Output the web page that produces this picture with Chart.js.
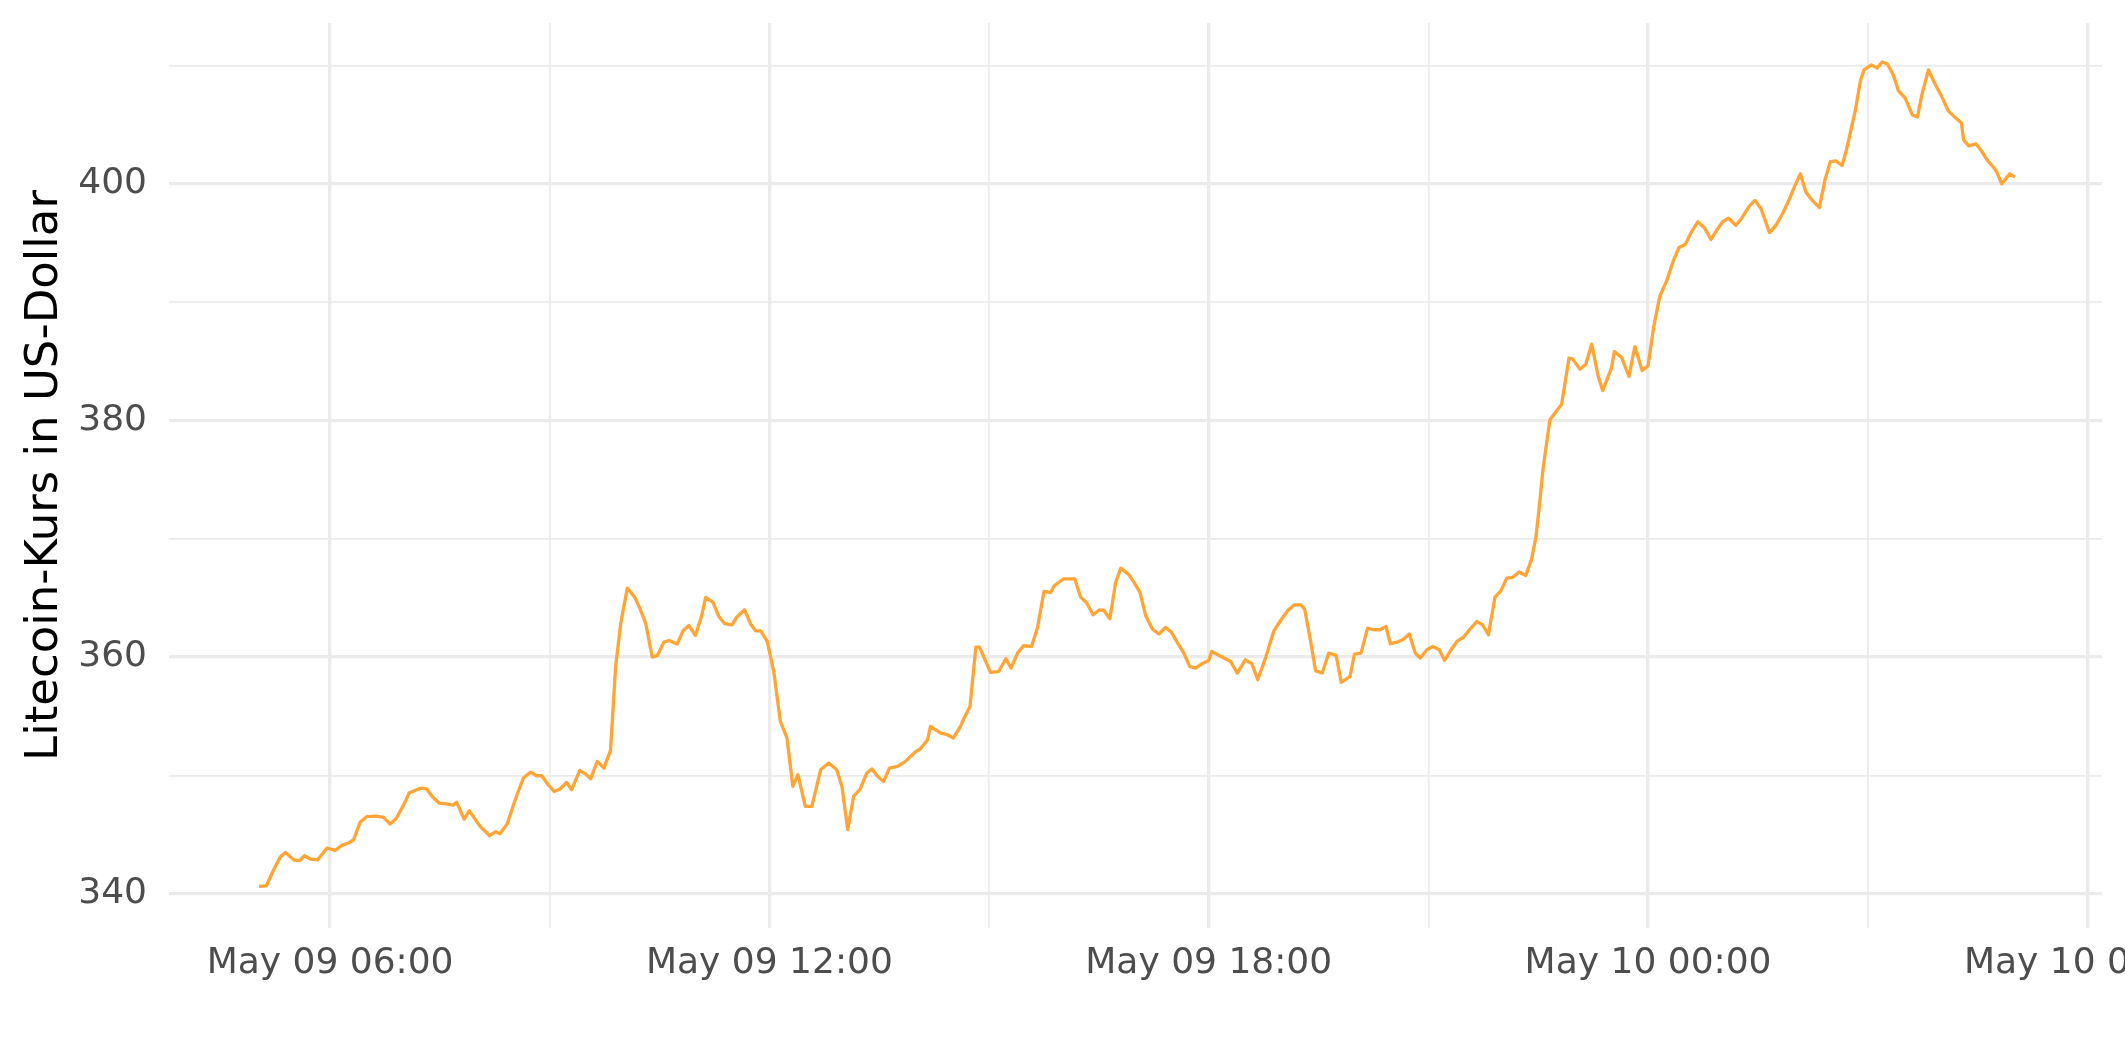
<!DOCTYPE html>
<html><head><meta charset="utf-8">
<script src="https://cdn.jsdelivr.net/npm/chart.js@4.4.1/dist/chart.umd.min.js"></script>
<style>html,body{margin:0;padding:0;background:#fff;}canvas{display:block;}</style>
</head><body>
<canvas id="c" width="2125" height="1062"></canvas>
<script>
// time in hours since May 09 00:00
const hours = [
5.03,5.13,5.23,5.32,5.39,5.45,5.52,5.59,5.65,5.73,5.83,5.96,6.07,6.16,6.25,6.32,6.41,6.50,6.63,6.73,
6.82,6.90,7.00,7.08,7.16,7.25,7.32,7.40,7.49,7.59,7.68,7.73,7.83,7.90,8.05,8.18,8.26,8.32,8.42,8.51,
8.57,8.64,8.74,8.82,8.89,8.98,9.06,9.14,9.23,9.30,9.41,9.49,9.56,9.65,9.74,9.83,9.90,9.97,10.06,10.16,
10.23,10.31,10.40,10.47,10.56,10.63,10.74,10.82,10.90,10.99,11.07,11.13,11.23,11.31,11.39,11.49,11.55,11.66,11.75,11.81,
11.88,11.97,12.06,12.15,12.24,12.32,12.39,12.49,12.58,12.70,12.81,12.92,12.99,13.07,13.15,13.24,13.33,13.40,13.48,13.56,
13.64,13.75,13.84,13.92,14.00,14.06,14.16,14.20,14.34,14.43,14.51,14.61,14.66,14.74,14.82,14.87,15.02,15.13,15.23,15.30,
15.39,15.47,15.58,15.66,15.75,15.84,15.89,16.02,16.17,16.25,16.33,16.42,16.51,16.57,16.65,16.73,16.80,16.91,16.98,17.06,
17.14,17.23,17.32,17.41,17.49,17.55,17.66,17.74,17.82,17.91,18.00,18.04,18.15,18.30,18.39,18.50,18.59,18.67,18.78,18.89,
18.98,19.08,19.17,19.26,19.31,19.38,19.46,19.55,19.64,19.74,19.81,19.93,19.99,20.08,20.17,20.25,20.34,20.42,20.48,20.56,
20.65,20.74,20.82,20.89,20.98,21.06,21.15,21.22,21.31,21.39,21.48,21.57,21.66,21.74,21.82,21.91,21.99,22.07,22.15,22.24,
22.33,22.41,22.47,22.51,22.57,22.66,22.82,22.92,22.97,23.07,23.15,23.23,23.32,23.38,23.50,23.54,23.64,23.74,23.82,23.92,
24.00,24.08,24.16,24.26,24.34,24.42,24.51,24.59,24.68,24.77,24.86,24.94,25.02,25.10,25.20,25.28,25.38,25.46,25.54,25.66,
25.75,25.84,25.93,26.00,26.08,26.16,26.25,26.34,26.42,26.49,26.57,26.65,26.71,26.83,26.90,26.95,27.05,27.13,27.20,27.27,
27.35,27.42,27.51,27.61,27.68,27.74,27.83,27.92,28.00,28.10,28.20,28.28,28.31,28.38,28.48,28.56,28.63,28.71,28.76,28.83,
28.94,29.01
];
const prices = [
340.62,340.67,342.03,343.10,343.49,343.15,342.81,342.81,343.21,342.93,342.87,343.86,343.66,344.08,344.28,344.56,346.03,346.51,346.56,346.45,
345.89,346.34,347.44,348.51,348.73,348.93,348.85,348.17,347.66,347.60,347.49,347.72,346.31,347.01,345.69,344.90,345.24,345.07,345.91,347.60,
348.64,349.78,350.28,349.97,349.97,349.21,348.64,348.85,349.40,348.79,350.42,350.11,349.72,351.18,350.62,352.11,359.21,362.87,365.83,365.07,
364.14,362.87,360.00,360.14,361.27,361.40,361.10,362.22,362.67,361.83,363.38,365.04,364.62,363.43,362.82,362.73,363.35,364.00,362.73,362.22,
362.22,361.32,358.78,354.56,353.16,349.07,350.06,347.38,347.38,350.48,351.04,350.48,349.07,345.41,348.22,348.85,350.20,350.54,349.91,349.49,
350.62,350.76,351.10,351.55,352.02,352.23,353.01,354.14,353.58,353.44,353.16,354.14,354.85,355.83,360.85,360.85,358.70,358.78,359.86,359.07,
360.34,360.96,360.90,362.45,365.55,365.46,366.03,366.62,366.62,365.07,364.62,363.58,364.00,363.94,363.24,366.34,367.52,366.96,366.31,365.49,
363.49,362.37,361.95,362.50,362.11,361.46,360.34,359.21,359.07,359.44,359.72,360.48,360.11,359.63,358.65,359.77,359.44,358.08,360.00,362.22,
363.07,363.94,364.42,364.42,364.06,361.74,358.84,358.65,360.34,360.14,357.86,358.36,360.26,360.34,362.45,362.31,362.31,362.59,361.13,361.24,
361.46,361.95,360.34,359.92,360.62,360.90,360.62,359.72,360.62,361.32,361.69,362.37,363.01,362.73,361.89,365.07,365.60,366.68,366.73,367.19,
366.90,368.28,370.19,372.45,376.11,380.06,381.38,385.27,385.21,384.34,384.76,386.45,383.72,382.53,384.43,385.83,385.32,383.72,386.25,384.22,
384.62,388.00,390.48,391.89,393.40,394.60,394.90,395.90,396.80,396.30,395.30,396.10,396.80,397.10,396.50,397.10,398.10,398.60,397.95,395.88,
396.54,397.52,398.71,399.77,400.85,399.26,398.56,398.00,400.42,401.88,401.94,401.55,402.87,406.17,408.70,409.63,410.06,409.80,410.31,410.14,
409.21,407.86,407.27,405.83,405.66,407.52,409.63,408.45,407.52,406.17,405.58,405.16,403.72,403.21,403.38,402.73,402.03,401.46,401.04,400.00,
400.85,400.57
];
const xTickHours = [6, 12, 18, 24, 30];
const xTickLabels = ['May 09 06:00', 'May 09 12:00', 'May 09 18:00', 'May 10 00:00', 'May 10 06:00'];
const yTickValues = [340, 360, 380, 400];
const yTitle = 'Litecoin-Kurs in US-Dollar';

const X_MIN = 3.8, X_MAX = 30.2, Y_MIN = 337.1, Y_MAX = 413.6;
const FONT = 'DejaVu Sans';
const GRID = '#EBEBEB';

const titlePlugin = {
  id: 'ytitle',
  afterDraw(chart) {
    const c = chart.ctx, a = chart.chartArea;
    c.save();
    c.translate(57, (a.top + a.bottom) / 2);
    c.rotate(-Math.PI / 2);
    c.font = '45px "' + FONT + '"';
    c.fillStyle = '#000000';
    c.textAlign = 'center';
    c.textBaseline = 'alphabetic';
    c.fillText(yTitle, 0, 0);
    c.restore();
  }
};

new Chart(document.getElementById('c').getContext('2d'), {
  type: 'line',
  data: {
    datasets: [{
      data: hours.map((h, i) => ({ x: h, y: prices[i] })),
      borderColor: '#FFA535',
      borderWidth: 3.3,
      pointRadius: 0,
      tension: 0,
      fill: false,
      borderJoinStyle: 'round'
    }]
  },
  options: {
    responsive: false,
    animation: false,
    devicePixelRatio: 1,
    layout: { padding: { top: 23, right: 23, left: 0, bottom: 0 } },
    plugins: { legend: { display: false }, tooltip: { enabled: false } },
    scales: {
      x: {
        type: 'linear', min: X_MIN, max: X_MAX,
        border: { display: false },
        grid: {
          color: GRID, drawTicks: false,
          lineWidth: (ctx) => (ctx.tick && ctx.tick.value % 6 === 0) ? 3.3 : 1.7
        },
        ticks: {
          stepSize: 3, includeBounds: false, autoSkip: false, maxRotation: 0, minRotation: 0,
          padding: 14, color: '#4D4D4D', font: { family: FONT, size: 36 },
          callback: (v) => { const i = xTickHours.indexOf(v); return i >= 0 ? xTickLabels[i] : ''; }
        },
        afterFit: (s) => { s.height = 134; s.paddingLeft = 0; s.paddingRight = 0; }
      },
      y: {
        type: 'linear', min: Y_MIN, max: Y_MAX,
        border: { display: false },
        grid: {
          color: GRID, drawTicks: false,
          lineWidth: (ctx) => (ctx.tick && ctx.tick.value % 20 === 0) ? 3.3 : 1.7
        },
        ticks: {
          stepSize: 10, includeBounds: false, autoSkip: false,
          padding: 22, color: '#4D4D4D', font: { family: FONT, size: 36 },
          callback: (v) => yTickValues.includes(v) ? String(v) : ''
        },
        afterFit: (s) => { s.width = 169; s.paddingTop = 0; s.paddingBottom = 0; }
      }
    }
  },
  plugins: [titlePlugin]
});
</script>
</body></html>
